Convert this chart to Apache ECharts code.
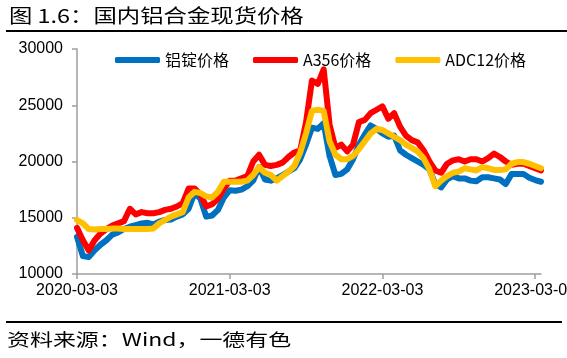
<!DOCTYPE html>
<html>
<head>
<meta charset="utf-8">
<script src="https://cdn.jsdelivr.net/npm/echarts@6/dist/echarts.min.js"></script>
<style>
html,body{margin:0;padding:0;background:#fff;}
#chart{width:567px;height:358px;}
</style>
</head>
<body>
<div id="chart"></div>
<script>
// Biweekly sampling dates (26 per year, anchored on 03-03 of each year)
var yearAnchors = ['2020-03-03', '2021-03-03', '2022-03-03', '2023-03-03'];
var tickLabels = ['2020-03-03', '2021-03-03', '2022-03-03', '2023-03-03'];
var pointsPerYear = 26;
var pointCount = 80;

var aluminumIngot = [
  13300, 11600, 11500, 12100, 12600, 13000, 13500, 13700, 14000, 14200,
  14350, 14500, 14550, 14400, 14650, 14800, 14850, 15100, 15300, 15800,
  17200, 16700, 15100, 15200, 15700, 16800, 17450, 17400, 17500, 17800,
  18300, 19500, 18400, 18300, 18500, 18800, 19100, 19400, 20200, 21500,
  23000, 22900, 23400, 20500, 18800, 18900, 19300, 20200, 21500, 22400,
  23200, 22900, 22500, 22200, 22300, 21000, 20600, 20300, 20000, 19700,
  19300, 18000, 17700, 18400, 18700, 18500, 18500, 18300, 18250, 18600,
  18600, 18500, 18400, 18000, 18900, 18900, 18900, 18550, 18350, 18200
];
var a356 = [
  14100, 13000, 12100, 13000, 13600, 14000, 14300, 14500, 14700, 15800,
  15300, 15500, 15400, 15400, 15500, 15700, 15800, 16000, 16300, 17600,
  17600, 17100, 16000, 16200, 16700, 17600, 18300, 18300, 18500, 18700,
  20000, 20600, 19700, 19600, 19700, 19900, 20400, 20800, 21000, 23500,
  27200, 26900, 28200, 23300, 21200, 21500, 20900, 21500, 23500, 23700,
  24300, 24600, 24900, 23800, 24300, 23100, 22300, 21900, 21700, 21000,
  20000, 19200, 19000, 19800, 20100, 20200, 20000, 20200, 20200, 20000,
  20300, 20700, 20400, 20000, 19700, 19800, 19800, 19600, 19400, 19200
];
var adc12 = [
  14800, 14500, 14000, 13950, 14000, 14000, 14050, 14050, 14000, 14000,
  14000, 14000, 14000, 14050, 14500, 14800, 15100, 15300, 15500, 16800,
  17300, 17200, 16900, 16800, 17300, 18200, 18200, 18200, 18200, 18300,
  18800, 19500, 19000, 18800, 18300, 18700, 19100, 19600, 20800, 22500,
  24500, 24600, 24500, 21800, 20600, 20200, 20200, 20500, 21100, 21800,
  22500, 22900, 22800, 22500, 22200, 21900, 21500, 21200, 20900, 20300,
  19300, 17800, 18300, 18700, 19000, 19100, 19400, 19300, 19200, 19500,
  19400, 19250, 19250, 19300, 19800, 19950, 19950, 19800, 19600, 19400
];
var seriesNames = ['铝锭价格', 'A356价格', 'ADC12价格'];
var titleText = '图 1.6：国内铝合金现货价格';
var sourceText = '资料来源：Wind，一德有色';

function pad(n){ return (n < 10 ? '0' : '') + n; }
var categories = [];
for (var i = 0; i < pointCount; i++) {
  var y = Math.floor(i / pointsPerYear), k = i % pointsPerYear;
  var base = new Date(yearAnchors[y] + 'T00:00:00Z').getTime();
  var d = new Date(base + Math.round(k * 365 / pointsPerYear) * 86400000);
  categories.push(d.getUTCFullYear() + '-' + pad(d.getUTCMonth() + 1) + '-' + pad(d.getUTCDate()));
}
function isTick(index){ return index % pointsPerYear === 0; }

var chart = echarts.init(document.getElementById('chart'), null, {renderer: 'canvas'});
var lineCommon = {type: 'line', showSymbol: false, symbol: 'none', smooth: false};
chart.setOption({
  animation: false,
  backgroundColor: '#ffffff',
  grid: {left: 77, right: 26, top: 49, bottom: 84, containLabel: false, outerBoundsMode: 'none'},
  legend: {
    left: 110, top: 47, itemWidth: 45, itemHeight: 6, itemGap: 24, icon: 'roundRect',
    textStyle: {fontFamily: '"Noto Sans CJK SC", sans-serif', fontSize: 16, color: '#000'},
    data: seriesNames
  },
  xAxis: {
    type: 'category', boundaryGap: false, data: categories,
    axisLine: {lineStyle: {color: '#9e9e9e', width: 1.5}},
    axisTick: {show: true, interval: function(idx){ return isTick(idx); }, length: 5, lineStyle: {color: '#9e9e9e', width: 1.5}},
    axisLabel: {
      interval: function(idx){ return isTick(idx); },
      formatter: function(v, idx){ return tickLabels[Math.floor(idx / pointsPerYear)]; },
      fontFamily: '"Liberation Sans", Arial, sans-serif', fontSize: 16, color: '#000', margin: 9,
      hideOverlap: false
    },
    splitLine: {show: false}
  },
  yAxis: {
    type: 'value', min: 10000, max: 30000, interval: 5000,
    axisLine: {show: true, lineStyle: {color: '#9e9e9e', width: 1.5}},
    axisTick: {show: true, length: 5, lineStyle: {color: '#9e9e9e', width: 1.5}},
    axisLabel: {
      formatter: function(v){ return String(v); },
      fontFamily: '"Liberation Sans", Arial, sans-serif', fontSize: 16, color: '#000', margin: 14
    },
    splitLine: {show: false}
  },
  series: [
    Object.assign({}, lineCommon, {name: seriesNames[0], data: aluminumIngot, color: '#0070C0', lineStyle: {width: 6, color: '#0070C0', cap: 'round', join: 'round'}}),
    Object.assign({}, lineCommon, {name: seriesNames[1], data: a356, color: '#FF0000', lineStyle: {width: 6, color: '#FF0000', cap: 'round', join: 'round'}}),
    Object.assign({}, lineCommon, {name: seriesNames[2], data: adc12, color: '#FFC000', lineStyle: {width: 6, color: '#FFC000', cap: 'round', join: 'round'}})
  ],
  graphic: [
    {type: 'text', left: 9, top: 6, scaleX: 1.23, style: {text: titleText, font: '19px "Noto Sans CJK SC", sans-serif', fill: '#000'}},
    {type: 'line', shape: {x1: 6, y1: 31, x2: 567, y2: 31}, style: {stroke: '#000', lineWidth: 2}},
    {type: 'line', shape: {x1: 6, y1: 322, x2: 562, y2: 322}, style: {stroke: '#000', lineWidth: 2}},
    {type: 'text', left: 7, top: 331, scaleX: 1.35, style: {text: sourceText, font: '17px "Noto Sans CJK SC", sans-serif', fill: '#000'}}
  ]
});
</script>
</body>
</html>
